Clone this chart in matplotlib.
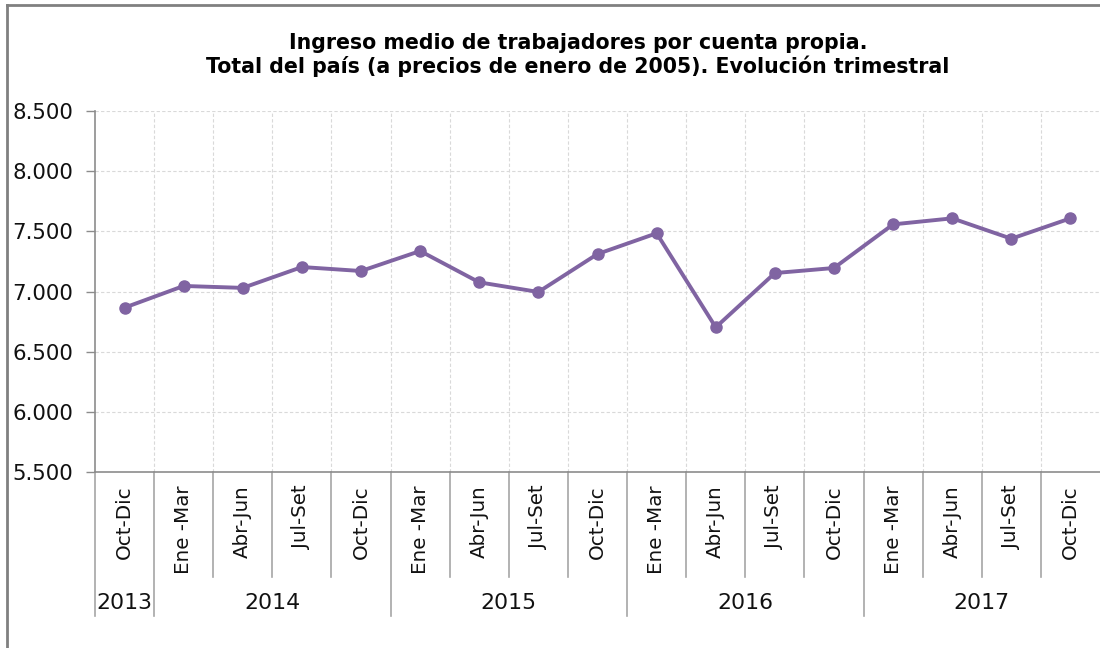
import matplotlib
matplotlib.use("Agg")
import matplotlib.pyplot as plt
from matplotlib.lines import Line2D
import matplotlib.ticker as mticker

# ---- data ----
quarters = ["Oct-Dic", "Ene -Mar", "Abr-Jun", "Jul-Set", "Oct-Dic",
            "Ene -Mar", "Abr-Jun", "Jul-Set", "Oct-Dic",
            "Ene -Mar", "Abr-Jun", "Jul-Set", "Oct-Dic",
            "Ene -Mar", "Abr-Jun", "Jul-Set", "Oct-Dic"]
years = ["2013", "2014", "2015", "2016", "2017"]
year_counts = [1, 4, 4, 4, 4]
ingreso = [6866, 7046, 7030, 7203, 7170, 7336, 7076, 6996, 7311,
           7483, 6703, 7153, 7195, 7557, 7607, 7438, 7607]
yticks = [5500, 6000, 6500, 7000, 7500, 8000, 8500]

title = ("Ingreso medio de trabajadores por cuenta propia.\n"
         "Total del país (a precios de enero de 2005). Evolución trimestral")

W, H = 1100, 648
fig = plt.figure(figsize=(W / 100, H / 100), dpi=100)
fig.patch.set_facecolor("white")

ax = fig.add_axes([95 / W, 1 - 472.3 / H, (1100 - 95) / W, (472.3 - 110.7) / H])

x = list(range(len(ingreso)))
ax.plot(x, ingreso, color="#8064A2", lw=2.8, marker="o", markersize=8,
        markeredgecolor="#8064A2", markerfacecolor="#8064A2", zorder=5,
        solid_joinstyle="round")

ax.set_xlim(-0.5, len(ingreso) - 0.5)
ax.set_ylim(yticks[0], yticks[-1])
ax.set_yticks(yticks)
ax.yaxis.set_major_formatter(mticker.FuncFormatter(
    lambda v, p: f"{int(v):,}".replace(",", ".")))

grid_c = "#d9d9d9"
for v in yticks[1:]:
    ax.axhline(v, color=grid_c, lw=0.8, ls=(0, (3, 2)), zorder=1)
for b in range(len(ingreso) - 1):
    ax.axvline(b + 0.5, color=grid_c, lw=0.8, ls=(0, (3, 2)), zorder=1)

axis_c = "#8c8c8c"
for s in ["top", "right"]:
    ax.spines[s].set_visible(False)
for s in ["left", "bottom"]:
    ax.spines[s].set_color(axis_c)
    ax.spines[s].set_linewidth(1.2)

ax.set_xticks([])
ax.tick_params(axis="y", direction="out", length=6.5, width=1, color=axis_c,
               pad=9, labelsize=15.3, labelcolor="#111111")
for lab in ax.get_yticklabels():
    lab.set_fontfamily("DejaVu Sans")

trans = ax.get_xaxis_transform()
sep_c = "#a6a6a6"
cat_bottom = -(577 - 472.3) / 361.6
year_bottom = -(616 - 472.3) / 361.6
label_top = -(485 - 472.3) / 361.6
year_y = -(603 - 472.3) / 361.6

# year boundaries
bounds = [-0.5]
for c in year_counts:
    bounds.append(bounds[-1] + c)
year_bounds = set(bounds)

for b in range(len(ingreso) + 1):
    xb = b - 0.5
    yb = year_bottom if xb in year_bounds else cat_bottom
    if xb == len(ingreso) - 0.5:
        continue
    ax.add_line(Line2D([xb, xb], [0, yb], transform=trans, color=sep_c,
                       lw=1.2, clip_on=False))

for i, q in enumerate(quarters):
    ax.text(i, label_top, q, transform=trans, rotation=90, ha="center",
            va="top", fontsize=14.3, color="#111111", family="DejaVu Sans")

for k, yr in enumerate(years):
    xc = (bounds[k] + bounds[k + 1]) / 2
    ax.text(xc, year_y, yr, transform=trans, ha="center", va="center",
            fontsize=15.8, color="#111111", family="DejaVu Sans")

fig.text(578 / W, 1 - 55 / H, title, ha="center", va="center",
         fontsize=14.8, fontweight="bold", family="DejaVu Sans",
         linespacing=1.17, color="#000000")

# outer frame (top and left)
fig.add_artist(Line2D([7 / W, 7 / W], [0, 1 - 5 / H], transform=fig.transFigure,
                      color="#808080", lw=2))
fig.add_artist(Line2D([7 / W, 1], [1 - 5 / H, 1 - 5 / H], transform=fig.transFigure,
                      color="#808080", lw=2))

fig.savefig("out.png", dpi=100, facecolor="white")
